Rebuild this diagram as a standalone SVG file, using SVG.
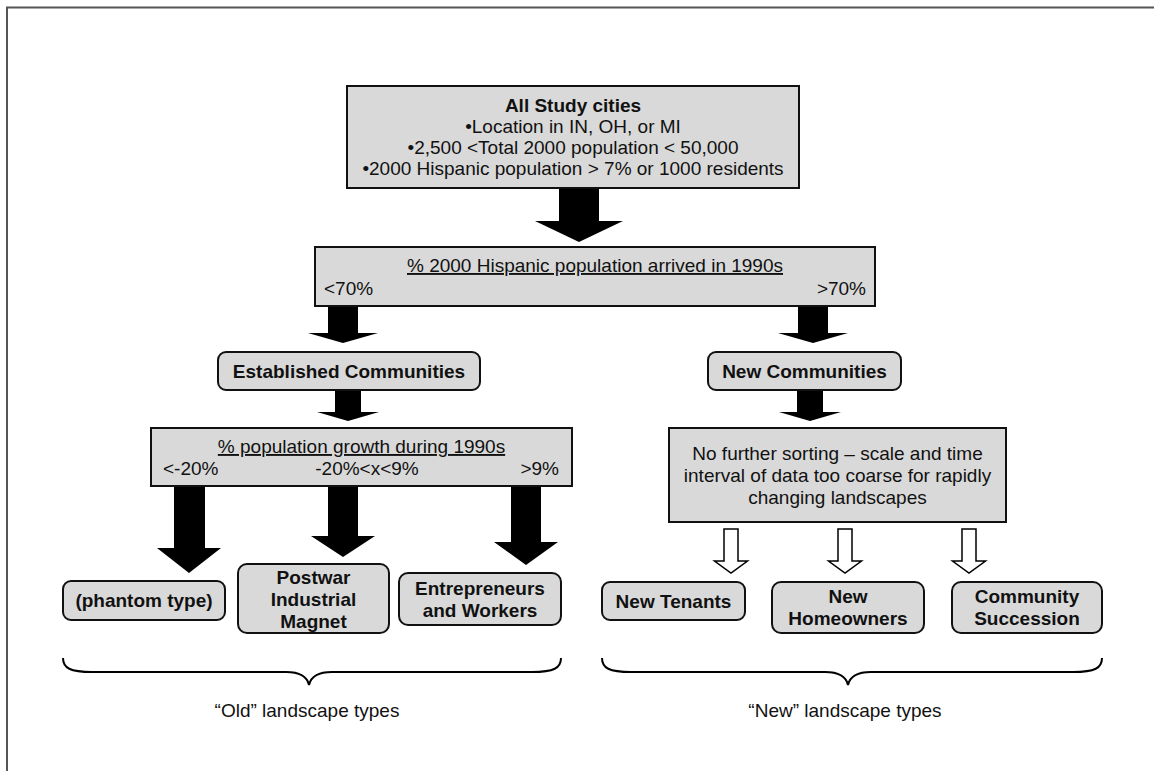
<svg xmlns="http://www.w3.org/2000/svg" width="1154" height="771" viewBox="0 0 1154 771">
<style>
  text { font-family: "Liberation Sans", Arial, sans-serif; font-size: 19px; fill: #111; }
  .b { font-weight: bold; }
  .c { text-anchor: middle; }
  .u { text-decoration: underline; }
  .box { fill: #d9d9d9; stroke: #111; stroke-width: 2; }
  .rbox { fill: #d9d9d9; stroke: #111; stroke-width: 2; }
  .solid { fill: #000; stroke: none; }
  .open { fill: #fff; stroke: #000; stroke-width: 1.5; stroke-linejoin: miter; }
  .brace { fill: none; stroke: #000; stroke-width: 2; }
  .frame { stroke: #555; stroke-width: 2; fill: none; }
</style>
<rect x="0" y="0" width="1154" height="771" fill="#fff"/>
<g id="frame">
  <line class="frame" x1="6" y1="7.5" x2="1154" y2="7.5"/>
  <line class="frame" x1="7" y1="7" x2="7" y2="771"/>
</g>

<g id="connectors">
  <polygon class="solid" points="559,188 599,188 599,221 623,221 579,242 535,221 559,221"/>
  <polygon class="solid" points="328,306 358,306 358,333 378,333 343,343 308,333 328,333"/>
  <polygon class="solid" points="798,306 828,306 828,333 848,333 813,343 778,333 798,333"/>
  <polygon class="solid" points="335,390 361,390 361,412 379,412 348,421 317,412 335,412"/>
  <polygon class="solid" points="797,390 823,390 823,412 841,412 810,421 779,412 797,412"/>
  <polygon class="solid" points="174,486 205,486 205,548 221,548 189,573 157,548 174,548"/>
  <polygon class="solid" points="328,486 358,486 358,536 375,536 343,557 311,536 328,536"/>
  <polygon class="solid" points="511,486 541,486 541,542 558,542 526,565 494,542 511,542"/>
  <polygon class="open" points="724,529 738,529 738,561 747.5,561 731,573 714.5,561 724,561"/>
  <polygon class="open" points="838,529 852,529 852,561 861.5,561 845,573 828.5,561 838,561"/>
  <polygon class="open" points="962,529 976,529 976,561 985.5,561 969,573 952.5,561 962,561"/>
</g>

<g id="node-all-study-cities">
  <rect class="box" x="347" y="86" width="452" height="102"/>
  <text class="b c" x="573" y="112">All Study cities</text>
  <text class="c" x="573" y="133">•Location in IN, OH, or MI</text>
  <text class="c" x="573" y="154">•2,500 &lt;Total 2000 population &lt; 50,000</text>
  <text class="c" x="573" y="175">•2000 Hispanic population &gt; 7% or 1000 residents</text>
</g>

<g id="node-hispanic-arrived">
  <rect class="box" x="315" y="247" width="560" height="59"/>
  <text class="c u" x="595" y="272">% 2000 Hispanic population arrived in 1990s</text>
  <text x="324" y="295">&lt;70%</text>
  <text x="866" y="295" text-anchor="end">&gt;70%</text>
</g>

<g id="node-established">
  <rect class="rbox" x="218" y="352" width="262" height="38" rx="8"/>
  <text class="b c" x="349" y="377.5">Established Communities</text>
</g>

<g id="node-new-communities">
  <rect class="rbox" x="708" y="352" width="193" height="38" rx="8"/>
  <text class="b c" x="804.5" y="377.5">New Communities</text>
</g>

<g id="node-growth">
  <rect class="box" x="151" y="428" width="421" height="58"/>
  <text class="c u" x="361.5" y="453">% population growth during 1990s</text>
  <text x="163" y="475">&lt;-20%</text>
  <text class="c" x="367" y="475">-20%&lt;x&lt;9%</text>
  <text x="559" y="475" text-anchor="end">&gt;9%</text>
</g>

<g id="node-no-further-sorting">
  <rect class="box" x="669" y="428" width="337" height="94"/>
  <text class="c" x="837.5" y="460">No further sorting – scale and time</text>
  <text class="c" x="837.5" y="482">interval of data too coarse for rapidly</text>
  <text class="c" x="837.5" y="504">changing landscapes</text>
</g>

<g id="node-phantom">
  <rect class="rbox" x="63" y="581" width="162" height="39" rx="8"/>
  <text class="b c" x="144" y="607">(phantom type)</text>
</g>

<g id="node-postwar">
  <rect class="rbox" x="238" y="564" width="151" height="69" rx="9"/>
  <text class="b c" x="313.5" y="584">Postwar</text>
  <text class="b c" x="313.5" y="606">Industrial</text>
  <text class="b c" x="313.5" y="628">Magnet</text>
</g>

<g id="node-entrepreneurs">
  <rect class="rbox" x="399" y="573" width="162" height="52" rx="9"/>
  <text class="b c" x="480" y="594.5">Entrepreneurs</text>
  <text class="b c" x="480" y="616.5">and Workers</text>
</g>

<g id="node-new-tenants">
  <rect class="rbox" x="602" y="582" width="143" height="38" rx="8"/>
  <text class="b c" x="673.5" y="608">New Tenants</text>
</g>

<g id="node-new-homeowners">
  <rect class="rbox" x="772" y="582" width="152" height="51" rx="9"/>
  <text class="b c" x="848" y="603">New</text>
  <text class="b c" x="848" y="625">Homeowners</text>
</g>

<g id="node-community-succession">
  <rect class="rbox" x="952" y="582" width="150" height="51" rx="9"/>
  <text class="b c" x="1027" y="603">Community</text>
  <text class="b c" x="1027" y="625">Succession</text>
</g>

<g id="brace-old">
  <path class="brace" d="M63,658 C63,668 70,672 92,672 L286,672 C300,672 307,676 309,685 C311,676 318,672 332,672 L532,672 C554,672 561,668 561,658"/>
  <text class="c" x="307" y="717">“Old” landscape types</text>
</g>

<g id="brace-new">
  <path class="brace" d="M602,658 C602,668 609,672 631,672 L825,672 C839,672 846,676 848,685 C850,676 857,672 871,672 L1073,672 C1095,672 1102,668 1102,658"/>
  <text class="c" x="845" y="717">“New” landscape types</text>
</g>
</svg>
